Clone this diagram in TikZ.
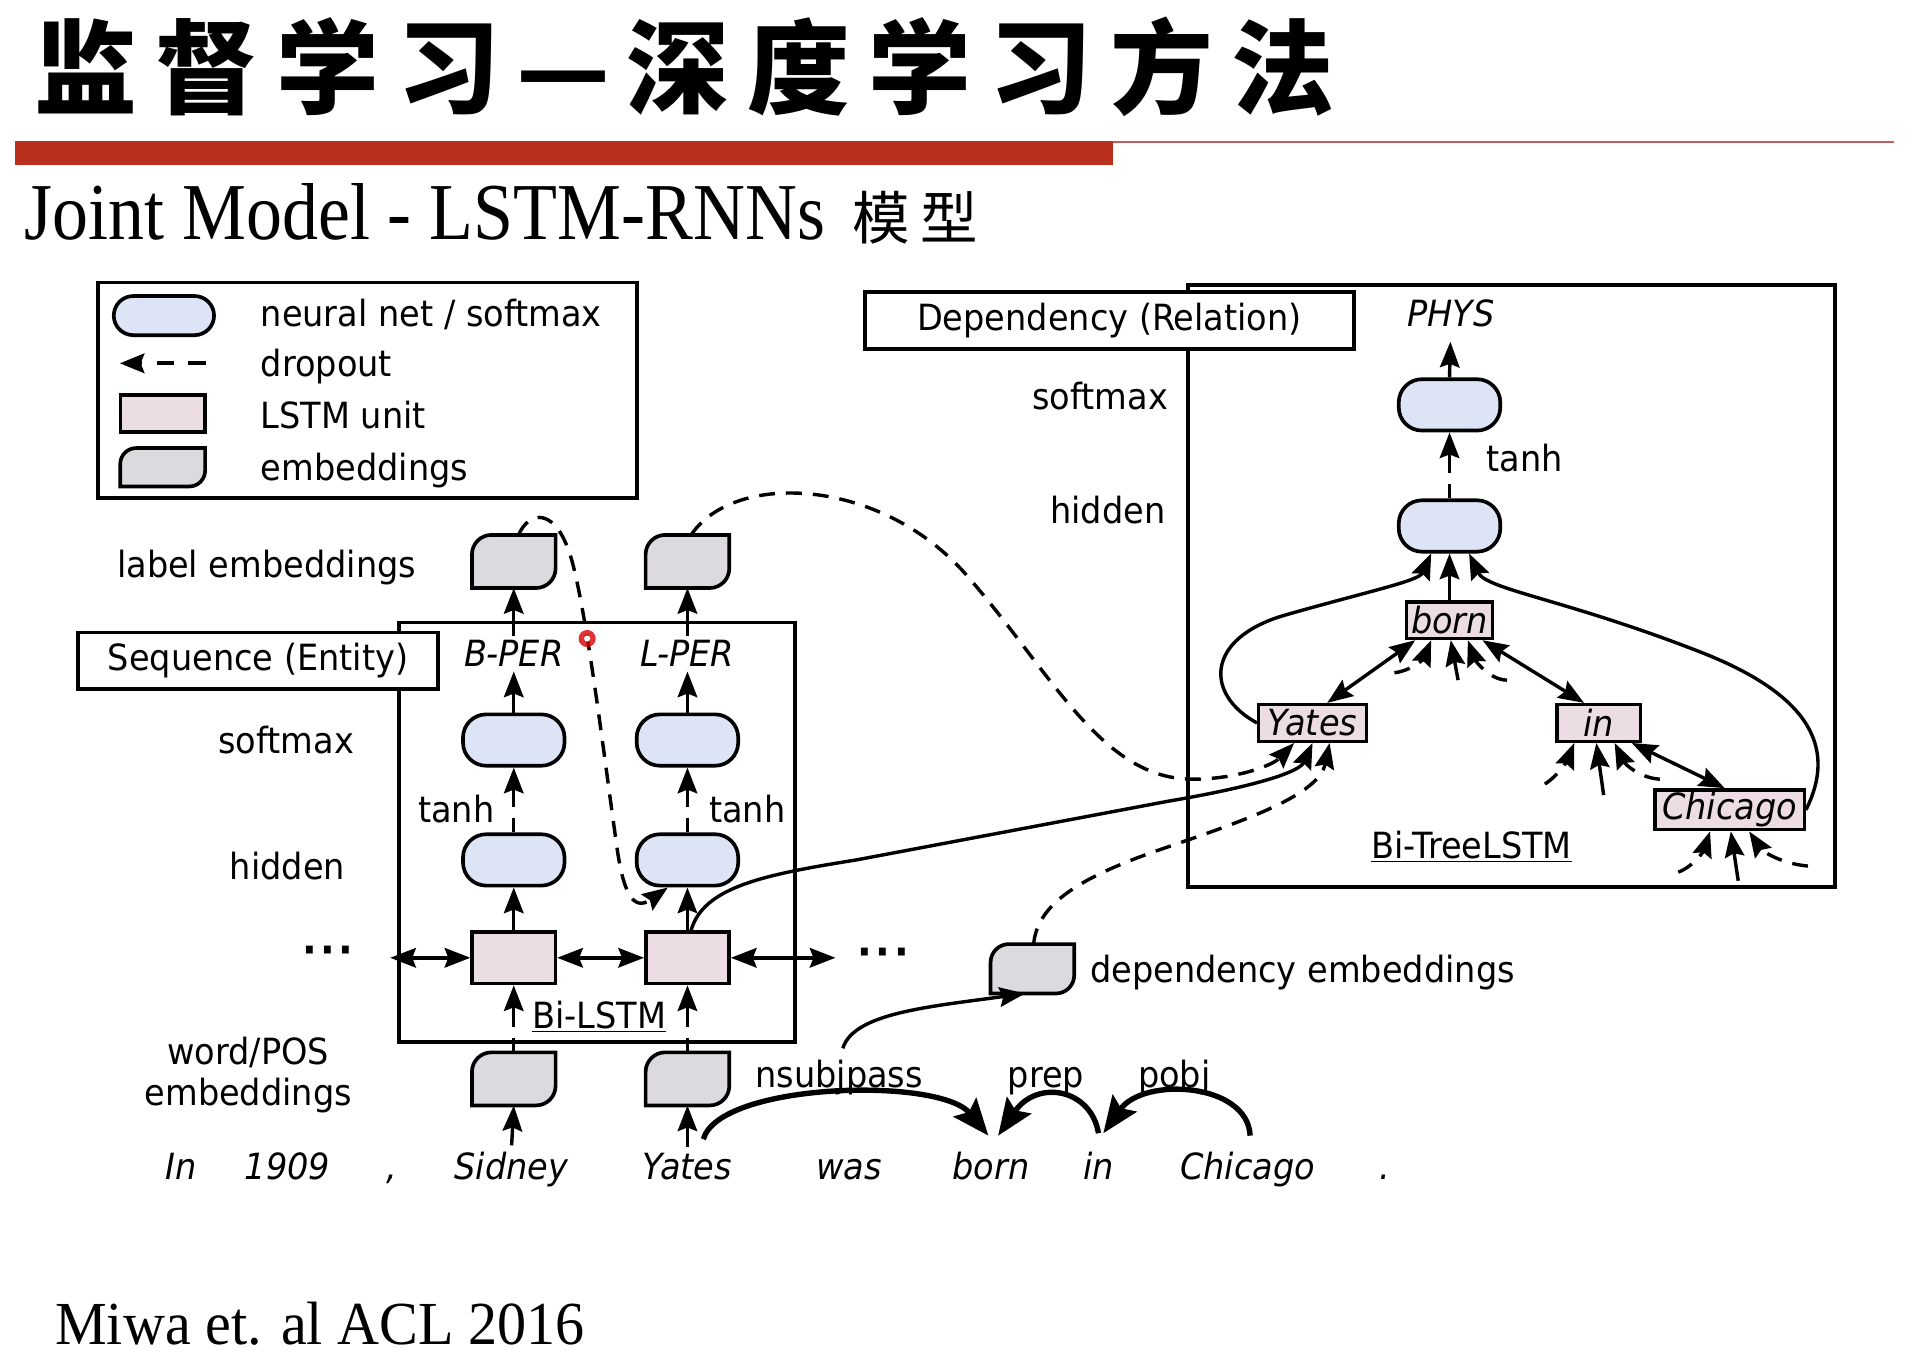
\documentclass[tikz,border=0pt]{standalone}
\usepackage{fontspec}
\setsansfont{DejaVu Sans}[FakeStretch=0.93, ItalicFont={DejaVu Sans Oblique}]
\newfontfamily\subF{Liberation Serif}[FakeStretch=0.89]
\newfontfamily\citeF{Liberation Serif}[FakeStretch=0.95]
\newfontfamily\cjk{Noto Sans CJK SC}
\usetikzlibrary{arrows.meta}
\definecolor{nnblue}{RGB}{220,228,246}
\definecolor{lstmpink}{RGB}{236,220,228}
\definecolor{embgray}{RGB}{220,218,222}
\definecolor{barred}{RGB}{186,46,30}
\definecolor{thinred}{RGB}{196,90,100}
\tikzset{
  txt/.style={font=\sffamily\fontsize{29.5}{34}\selectfont, inner sep=0pt},
  ilab/.style={font=\sffamily\itshape\fontsize{29.5}{34}\selectfont, inner sep=0pt},
  pill/.style={draw, line width=3pt, fill=nnblue, rounded corners=19pt, minimum width=83pt, minimum height=42pt},
  lstmbox/.style={draw, line width=3pt, fill=lstmpink, minimum width=68pt, minimum height=42pt},
  embnode/.style={minimum width=68pt, minimum height=43pt, inner sep=0pt},
  treebox/.style={draw, line width=2.8pt, fill=lstmpink, inner sep=2pt, minimum height=30pt, font=\sffamily\itshape\fontsize{29.5}{34}\selectfont},
  boxline/.style={draw, line width=3pt},
  arr/.style={line width=2.8pt, -{Stealth[length=21pt,width=16pt,inset=3pt]}},
  dropar/.style={arr, dash pattern=on 12pt off 9pt on 200pt off 9pt},
  dcurve/.style={arr, dash pattern=on 13pt off 9pt},
  dbl/.style={line width=2.8pt, {Stealth[length=21pt,width=16pt,inset=3pt]}-{Stealth[length=21pt,width=16pt,inset=3pt]}},
  deparc/.style={line width=4.4pt, -{Stealth[length=30pt,width=24pt,inset=5pt]}},
}
\newcommand\embdraw[2]{\draw[line width=3pt, fill=embgray] (#1.south west) -- ([yshift=-#2]#1.north west) arc[start angle=180,end angle=90,radius=#2] -- (#1.north east) -- ([yshift=#2]#1.south east) arc[start angle=0,end angle=-90,radius=#2] -- cycle;}
\begin{document}
\begin{tikzpicture}[x=1pt,y=1pt]
\useasboundingbox (0,0) rectangle (1568,-1109);
\fill[white] (0,0) rectangle (1568,-1109);
% ---------- title ----------
\node[anchor=west, inner sep=0pt, font=\cjk\bfseries\fontsize{84}{90}\selectfont] (title) at (28,-55)
  {监\kern15pt 督\kern15pt 学\kern15pt 习\kern13pt —\kern13pt 深\kern15pt 度\kern15pt 学\kern15pt 习\kern15pt 方\kern15pt 法};
\fill[barred] (12,-115) rectangle (910,-135);
\draw[thinred, line width=1.5pt] (910,-116) -- (1548,-116);
\node[anchor=base west, inner sep=0pt, font=\subF\fontsize{66}{70}\selectfont] (sub) at (20,-196) {Joint Model - LSTM-RNNs};
\node[anchor=base west, inner sep=0pt, font=\cjk\fontsize{47}{50}\selectfont] (subcjk) at (697,-196) {模\kern8pt 型};
\node[anchor=base west, inner sep=0pt, font=\citeF\fontsize{50}{54}\selectfont] (cite) at (45,-1099) {Miwa et. al ACL 2016};
% ---------- legend ----------
\draw[boxline] (80,-231) rectangle (521,-407);
\node[pill, minimum width=82pt, minimum height=32pt, rounded corners=16pt] (lgpill) at (134,-258) {};
\node[txt, anchor=mid west] (lgt1) at (213,-265) {neural net / softmax};
\coordinate (lgd1) at (168,-297);
\coordinate (lgd0) at (98,-297);
\draw[line width=3pt, dash pattern=on 14pt off 12pt, -{Stealth[length=20pt,width=16pt,inset=3pt]}] (lgd1) -- (lgd0);
\node[txt, anchor=mid west] (lgt2) at (213,-306) {dropout};
\node[lstmbox, minimum width=69pt, minimum height=30pt] (lglstm) at (133,-338) {};
\node[txt, anchor=mid west] (lgt3) at (213,-348) {LSTM unit};
\node[embnode, minimum width=69pt, minimum height=31pt] (lgemb) at (133,-382) {};
\embdraw{lgemb}{13pt}
\node[txt, anchor=mid west] (lgt4) at (213,-391) {embeddings};
% ---------- sequence part ----------
\draw[boxline] (326,-509) rectangle (650,-852);
\node[boxline, fill=white, txt, minimum width=294pt, minimum height=46pt] (seqlab) at (211,-540) {Sequence (Entity)};
\node[txt] (lblemb) at (218,-464) {label embeddings};
\node[txt] (smL) at (234,-605) {softmax};
\node[txt] (hdL) at (235,-708) {hidden};
\node[txt, align=center, font=\sffamily\fontsize{29.5}{33}\selectfont] (wpL) at (203,-879) {word/POS\\embeddings};
% column 1
\node[embnode] (le1) at (420,-459) {};
\embdraw{le1}{16pt}
\node[ilab] (bper) at (420,-534) {B-PER};
\node[pill] (sm1) at (420,-605) {};
\node[pill] (hd1) at (420,-703) {};
\node[lstmbox] (ls1) at (420,-783) {};
\node[embnode] (we1) at (420,-882) {};
\embdraw{we1}{16pt}
% column 2
\node[embnode] (le2) at (562,-459) {};
\embdraw{le2}{16pt}
\node[ilab] (lper) at (562,-534) {L-PER};
\node[pill] (sm2) at (562,-605) {};
\node[pill] (hd2) at (562,-703) {};
\node[lstmbox] (ls2) at (562,-783) {};
\node[embnode] (we2) at (562,-882) {};
\embdraw{we2}{16pt}
\node[txt] (tanh1) at (373,-661) {tanh};
\node[txt] (tanh2) at (611,-661) {tanh};
\node[txt] (bilstm) at (490,-831) {\underline{Bi-LSTM}};
\node[txt, font=\sffamily\bfseries\fontsize{34}{34}\selectfont] (dotsL) at (268,-781) {·\kern3pt·\kern3pt·};
\node[txt, font=\sffamily\bfseries\fontsize{34}{34}\selectfont] (dotsR) at (722,-783) {·\kern3pt·\kern3pt·};
% sentence
\node[ilab, anchor=base] (wIn) at (148,-964) {In};
\node[ilab, anchor=base] (w1909) at (235,-964) {1909};
\node[ilab, anchor=base] (wComma) at (320,-964) {,};
\node[ilab, anchor=base] (wSidney) at (418,-964) {Sidney};
\node[ilab, anchor=base] (wYates) at (562,-964) {Yates};
\node[ilab, anchor=base] (wWas) at (694,-964) {was};
\node[ilab, anchor=base] (wBorn) at (810,-964) {born};
\node[ilab, anchor=base] (wIn2) at (898,-964) {in};
\node[ilab, anchor=base] (wChicago) at (1020,-964) {Chicago};
\node[ilab, anchor=base] (wDot) at (1132,-964) {.};
\node[txt, anchor=base] (nsubj) at (686,-889) {nsubjpass};
\node[txt, anchor=base] (prep) at (855,-889) {prep};
\node[txt, anchor=base] (pobj) at (960,-889) {pobj};
% sequence arrows
\foreach \c in {1,2}{
  \draw[arr] (ls\c.north) -- (hd\c.south);
  \draw[dropar] (hd\c.north) -- (sm\c.south);
  \draw[dropar] (we\c.north) -- (ls\c.south);
}
\draw[arr, shorten >=4pt] (sm1.north) -- (bper.south);
\draw[arr, shorten >=4pt] (sm2.north) -- (lper.south);
\draw[arr, shorten <=3pt] (bper.north) -- (le1.south);
\draw[arr, shorten <=3pt] (lper.north) -- (le2.south);
\draw[arr, shorten <=5pt] (wSidney.north) -- (we1.south);
\draw[arr, shorten <=5pt] (wYates.north) -- (we2.south);
\coordinate (lsL) at (319,-783);
\coordinate (lsR) at (683,-783);
\draw[dbl] (lsL) -- (ls1.west);
\draw[dbl] (ls1.east) -- (ls2.west);
\draw[dbl] (ls2.east) -- (lsR);
% dependency embeddings
\node[embnode, minimum height=40pt] (demb) at (844,-792) {};
\embdraw{demb}{15pt}
\node[txt, anchor=mid west] (dembt) at (891,-801) {dependency embeddings};
% ---------- dependency part ----------
\draw[boxline] (971,-233) rectangle (1500,-725);
\node[boxline, fill=white, txt, minimum width=400pt, minimum height=47pt] (deplab) at (907,-262) {Dependency (Relation)};
\node[ilab] (phys) at (1186,-256) {PHYS};
\node[pill] (smR) at (1185,-331) {};
\node[pill] (hdR) at (1185,-430) {};
\node[txt, anchor=mid east] (smRt) at (955,-333) {softmax};
\node[txt, anchor=mid east] (hdRt) at (953,-426) {hidden};
\node[txt, anchor=mid west] (tanhR) at (1215,-383) {tanh};
\node[treebox, minimum width=70pt] (tborn) at (1185,-507) {born};
\node[treebox, minimum width=88pt] (tyates) at (1073,-591) {Yates};
\node[treebox, minimum width=68pt] (tin) at (1307,-591) {in};
\node[treebox, minimum width=122pt] (tchicago) at (1414,-662) {Chicago};
\node[txt] (bitree) at (1203,-692) {\underline{Bi-TreeLSTM}};
\draw[arr, shorten >=12pt] (smR.north) -- (phys.south);
\draw[dropar] (hdR.north) -- (smR.south);
\draw[arr] (tborn.north) -- (hdR.south);
\draw[arr] (tyates.west) .. controls (985,-568) and (985,-522) .. (1050,-503) .. controls (1120,-483) and (1160,-475) .. ([xshift=-15pt]hdR.south);
\draw[arr] (tchicago.east) .. controls (1500,-615) and (1485,-570) .. (1390,-533) .. controls (1280,-490) and (1215,-482) .. ([xshift=16pt]hdR.south);
\draw[dbl] ([xshift=-28pt]tborn.south) -- ([xshift=12pt]tyates.north);
\draw[dbl] ([xshift=27pt]tborn.south) -- ([xshift=-12pt]tin.north);
\draw[dbl] ([xshift=27pt]tin.south) -- ([xshift=-4pt]tchicago.north);
% stubs
\coordinate (bs1) at (1140,-550);
\coordinate (bs2) at (1192,-556);
\coordinate (bs3) at (1232,-556);
\draw[dcurve] (bs1) .. controls (1155,-548) and (1164,-538) .. ([xshift=-15pt]tborn.south);
\draw[arr] (bs2) -- ([xshift=1pt]tborn.south);
\draw[dcurve] (bs3) .. controls (1218,-556) and (1206,-540) .. ([xshift=15pt]tborn.south);
\coordinate (is1) at (1263,-641);
\coordinate (is2) at (1311,-650);
\coordinate (is3) at (1357,-637);
\draw[dcurve] (is1) .. controls (1275,-633) and (1282,-620) .. ([xshift=-20pt]tin.south);
\draw[arr] (is2) -- ([xshift=-2pt]tin.south);
\draw[dcurve] (is3) .. controls (1340,-636) and (1328,-624) .. ([xshift=13pt]tin.south);
\coordinate (cs1) at (1372,-713);
\coordinate (cs2) at (1421,-720);
\coordinate (cs3) at (1478,-708);
\draw[dcurve] (cs1) .. controls (1385,-708) and (1393,-695) .. ([xshift=-16pt]tchicago.south);
\draw[arr] (cs2) -- ([xshift=1pt]tchicago.south);
\draw[dcurve] (cs3) .. controls (1455,-706) and (1440,-695) .. ([xshift=16pt]tchicago.south);
% ---------- long connectors ----------
\draw[dcurve] ([xshift=4pt]le1.north) .. controls (432,-418) and (455,-412) .. (468,-460) .. controls (481,-510) and (494,-620) .. (504,-690) .. controls (509,-728) and (517,-746) .. ([xshift=-16pt]hd2.south);
\draw[dcurve] ([xshift=3pt]le2.north) .. controls (600,-385) and (720,-390) .. (790,-470) .. controls (860,-550) and (900,-637) .. (975,-637) .. controls (1010,-637) and (1040,-626) .. ([xshift=-15pt]tyates.south);
\draw[arr] ([xshift=3pt]ls2.north) .. controls (575,-725) and (625,-715) .. (700,-703) -- (955,-655) .. controls (1020,-644) and (1062,-632) .. (tyates.south);
\draw[dcurve] ([xshift=1pt]demb.north) .. controls (848,-740) and (880,-718) .. (950,-694) .. controls (1020,-670) and (1078,-650) .. ([xshift=14pt]tyates.south);
\coordinate (nsA) at (689,-857);
\draw[arr] (nsA) .. controls (698,-828) and (760,-823) .. ([xshift=-6pt]demb.south);
% dependency arcs
\draw[deparc] ([xshift=13pt,yshift=11pt]wYates.north) .. controls (588,-885) and (768,-880) .. ([xshift=-2pt,yshift=13pt]wBorn.north);
\draw[deparc] ([yshift=15pt]wIn2.north) .. controls (892,-890) and (848,-882) .. ([xshift=6pt,yshift=13pt]wBorn.north);
\draw[deparc] ([xshift=2pt,yshift=13pt]wChicago.north) .. controls (1020,-885) and (935,-880) .. ([xshift=4pt,yshift=15pt]wIn2.north);
% pointer mark
\fill[red!85!black, opacity=0.8] (480,-522) circle (7pt);
\fill[white] (480,-522) circle (2.5pt);
\end{tikzpicture}
\end{document}
